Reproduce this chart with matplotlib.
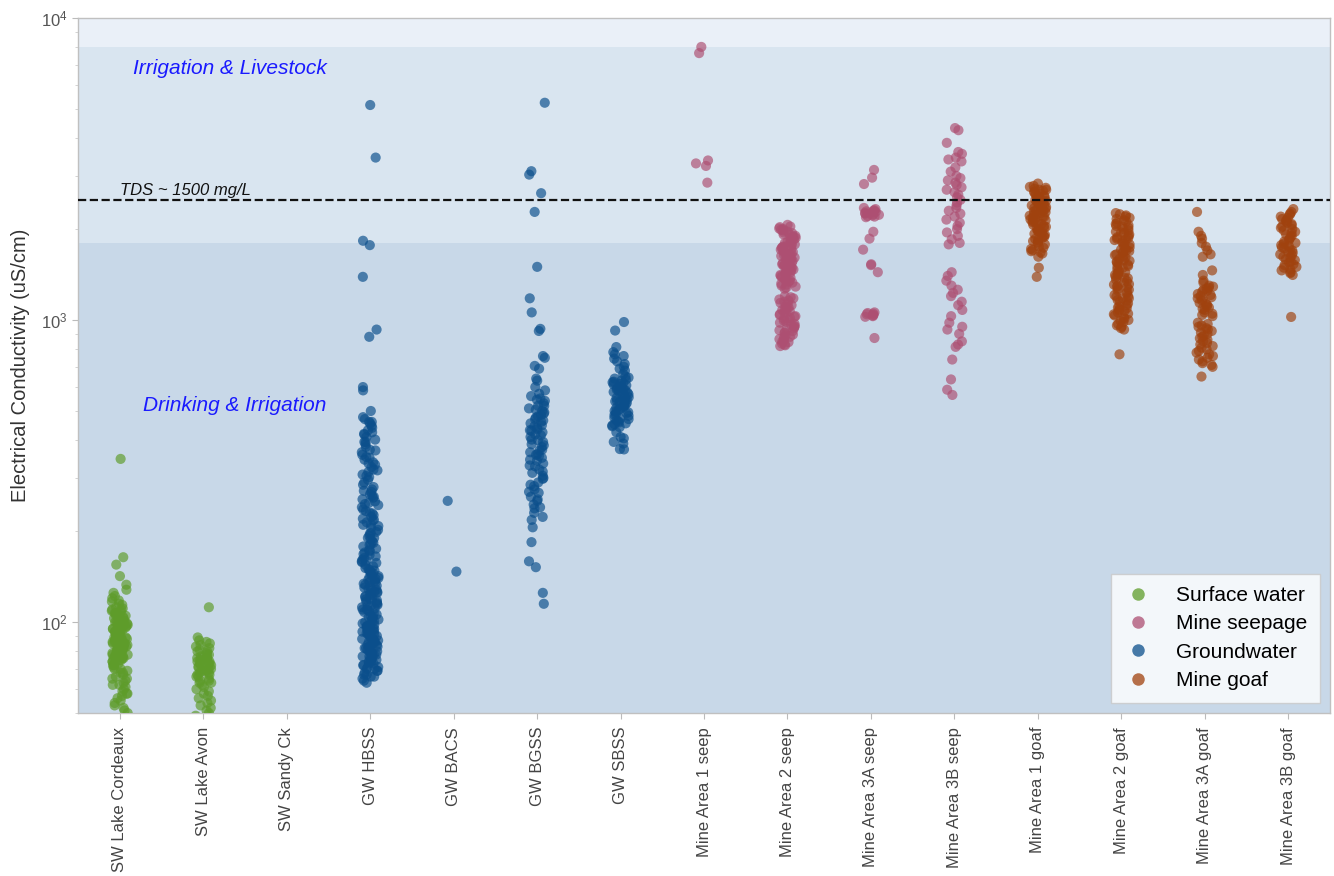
import numpy as np
import pandas as pd
import matplotlib.pyplot as plt
import seaborn as sns
from matplotlib.lines import Line2D

plt.rcParams['font.family'] = ['Liberation Sans', 'DejaVu Sans']
plt.rcParams['mathtext.default'] = 'regular'

# Site categories in plotting order
sites = ['SW Lake Cordeaux', 'SW Lake Avon', 'SW Sandy Ck', 'GW HBSS', 'GW BACS',
         'GW BGSS', 'GW SBSS', 'Mine Area 1 seep', 'Mine Area 2 seep',
         'Mine Area 3A seep', 'Mine Area 3B seep', 'Mine Area 1 goaf',
         'Mine Area 2 goaf', 'Mine Area 3A goaf', 'Mine Area 3B goaf']
site_type = ['Surface water', 'Surface water', 'Surface water', 'Groundwater', 'Groundwater',
             'Groundwater', 'Groundwater', 'Mine seepage', 'Mine seepage',
             'Mine seepage', 'Mine seepage', 'Mine goaf',
             'Mine goaf', 'Mine goaf', 'Mine goaf']
type_order = ['Surface water', 'Mine seepage', 'Groundwater', 'Mine goaf']
type_colors = ['#5e9c2a', '#ad4f72', '#0b4f8c', '#a0420e']

# Electrical conductivity readings (uS/cm)
ec_cordeaux = [347, 164, 155, 142, 133, 128, 125, 122, 120, 118, 117, 115, 114, 112, 111, 110,
               109, 108, 107, 106, 105, 104, 103, 103, 102, 101, 100, 100, 99, 99, 98, 97, 97,
               96, 96, 95, 94, 94, 93, 93, 92, 92, 91, 90, 90, 89, 89, 88, 88, 87, 87, 86, 86,
               85, 85, 84, 84, 83, 83, 82, 82, 81, 81, 80, 80, 79, 79, 78, 78, 77, 77, 76, 76,
               75, 75, 74, 74, 73, 72, 72, 71, 70, 70, 69, 68, 68, 67, 66, 65, 64, 63, 62, 61,
               60, 59, 58, 57, 56, 55, 54, 53, 52, 51, 50, 105, 98, 95, 92, 88, 85, 101, 97, 93,
               89, 86, 83, 80, 76, 73, 110, 107, 103, 99, 96, 91, 87, 84, 81, 78, 65, 62, 58, 48]
ec_avon = [112, 89, 87, 86, 85, 84, 83, 82, 81, 80, 80, 79, 78, 78, 77, 76, 76, 75, 75, 74, 74,
           73, 73, 72, 72, 71, 71, 70, 70, 69, 69, 68, 68, 67, 66, 66, 65, 64, 64, 63, 62, 61,
           60, 59, 58, 57, 56, 55, 54, 53, 52, 51, 50, 49, 48, 76, 73, 70, 67, 63]
ec_sandy = []
ec_hbss = [5150, 3450, 1830, 1770, 1390, 930, 880, 600, 585, 500,
           477, 470, 460, 455, 447, 440, 432, 425, 418, 410, 402, 395, 388, 380, 372, 365, 358,
           350, 345, 338, 332, 326, 320, 314, 308, 302, 296, 460, 420, 395, 370, 352, 335, 318, 305,
           290, 280, 270, 262, 255, 248, 240, 233, 226, 220, 214, 208, 202, 196, 190, 185, 180,
           175, 170, 165, 161, 157, 153, 149, 145, 141, 137, 134, 131, 128, 125, 122, 119, 116,
           113, 110, 107, 104, 101, 98, 96, 94, 92, 90, 88, 86, 84, 82, 80, 78, 76, 74, 72, 70,
           68, 66, 64,
           285, 275, 265, 258, 251, 244, 236, 229, 223, 217, 211, 205, 199, 193, 188, 183, 178,
           173, 168, 163, 159, 155, 151, 147, 143, 139, 136, 132, 129, 126, 123, 120, 117, 114,
           111, 108, 105, 102, 99, 97, 95, 93, 91, 89, 87, 85, 83, 81, 79, 77, 75, 73, 71, 69,
           67, 65,
           272, 246, 218, 197, 181, 167, 158, 150, 142, 135, 127, 121, 115, 109, 103, 100, 97,
           94, 91, 88, 85, 82, 79, 76, 73, 70, 67, 148, 138, 130, 118, 112, 106, 96, 92, 87, 83,
           78, 74, 69,
           260, 230, 210, 190, 172, 160, 146, 133, 124, 113, 104, 98, 93, 86, 80, 75, 71, 66,
           140, 126, 119, 110, 101, 95, 89, 84, 77, 72, 63]
ec_bacs = [252, 147]
ec_bgss = [5240, 3110, 3030, 2630, 2280, 1500, 1180, 1060, 935, 920, 760, 750, 705, 690, 640,
           630, 600, 585, 570, 560, 550, 540, 530, 520, 510, 500, 495, 485, 475, 470, 460, 455,
           448, 440, 432, 425, 418, 410, 402, 395, 388, 380, 372, 365, 358, 350, 342, 335, 328,
           320, 312, 305, 298, 290, 282, 275, 268, 260, 252, 245, 238, 230, 223, 218, 206, 184,
           159, 152, 125, 115, 545, 505, 465, 435, 400, 370, 345, 315, 285, 255, 520, 480, 445,
           415, 385, 355, 330, 300, 270, 240, 490, 430, 360]
ec_sbss = [985, 923, 814, 783, 770, 745, 730, 715, 700, 680, 663, 650, 640, 630, 622, 615, 608,
           600, 595, 588, 580, 575, 568, 560, 555, 548, 540, 535, 528, 520, 515, 508, 500, 495,
           488, 482, 475, 470, 462, 455, 448, 442, 425, 406, 390, 374, 373, 645, 625, 605, 590,
           570, 552, 532, 512, 492, 472, 452, 635, 612, 585, 565, 545, 525, 505, 485, 465, 445,
           618, 578, 538, 498, 458, 760, 690, 410, 395]
ec_seep1 = [8020, 7650, 3375, 3300, 3237, 2850]
ec_seep2 = [2066, 2030, 2000, 1980, 1950, 1920, 1900, 1880, 1850, 1830, 1800, 1780, 1760, 1740,
            1720, 1700, 1680, 1660, 1640, 1620, 1600, 1580, 1560, 1540, 1520, 1500, 1480, 1460,
            1440, 1420, 1400, 1380, 1360, 1340, 1320, 1300, 1280, 2040, 1990, 1940, 1890, 1840,
            1790, 1750, 1710, 1670, 1630, 1590, 1550, 1510, 1470, 1430, 1390, 1350, 1310, 1270,
            1960, 1870, 1770, 1690, 1610, 1530, 1450, 1370, 1290, 2010, 1910, 1820, 1730, 1650,
            1570, 1490, 1410, 1330,
            1200, 1180, 1160, 1140, 1120, 1100, 1085, 1070, 1055, 1040, 1025, 1010, 995, 980,
            965, 950, 935, 920, 905, 890, 875, 860, 845, 830, 820, 1190, 1150, 1110, 1080, 1045,
            1015, 985, 955, 925, 895, 865, 835, 1170, 1130, 1090, 1060, 1030, 1000, 970, 940,
            910, 880, 850, 825]
ec_seep3a = [3140, 2960, 2820, 2350, 2330, 2310, 2300, 2290, 2280, 2270, 2260, 2250, 2240, 2230,
             2220, 2210, 2200, 2190, 1960, 1860, 1710, 1530, 1520, 1440, 1060, 1055, 1050, 1045,
             1040, 1035, 1030, 1025, 872]
ec_seep3b = [4320, 4250, 3860, 3600, 3550, 3450, 3400, 3350, 3200, 3100, 3000, 2950, 2900, 2850,
             2800, 2750, 2700, 2650, 2600, 2550, 2500, 2450, 2400, 2350, 2300, 2250, 2200, 2150,
             2100, 2050, 2000, 1950, 1900, 1850, 1800, 1780, 1440, 1400, 1350, 1300, 1260, 1230,
             1200, 1150, 1120, 1080, 1030, 980, 950, 930, 900, 850, 830, 815, 740, 636, 588, 565]
ec_goaf1 = [2830, 2780, 2740, 2700, 2660, 2620, 2580, 2540, 2500, 2470, 2440, 2410, 2380, 2350,
            2320, 2290, 2260, 2230, 2200, 2170, 2140, 2110, 2080, 2050, 2020, 1990, 1960, 1930,
            1900, 1870, 1840, 1810, 1780, 1750, 1720, 1690, 1660, 1620, 1490, 1390,
            2760, 2680, 2600, 2520, 2455, 2395, 2335, 2275, 2215, 2155, 2095, 2035, 1975, 1915,
            1855, 1795, 1735, 1675, 2720, 2560, 2425, 2305, 2185, 2065, 1945, 1825, 1705, 2640,
            2480, 2365, 2245, 2125, 2005, 1885, 2700, 2550, 2400, 2300, 2200, 2100]
ec_goaf2 = [2260, 2220, 2180, 2140, 2100, 2060, 2020, 1980, 1940, 1900, 1860, 1820, 1780, 1740,
            1700, 1665, 1630, 1595, 1560, 1525, 1490, 1455, 1420, 1390, 1360, 1330, 1300, 1270,
            1240, 1210, 1180, 1150, 1120, 1095, 1070, 1045, 1020, 995, 970, 950, 930, 770,
            2240, 2160, 2080, 2000, 1920, 1840, 1760, 1680, 1610, 1540, 1470, 1405, 1345, 1285,
            1225, 1165, 1110, 1060, 1010, 960,
            2200, 2120, 2040, 1960, 1880, 1800, 1720, 1650, 1580, 1510, 1440, 1375, 1315, 1255,
            1195, 1135, 1085, 1035, 985, 940,
            2050, 1870, 1710, 1570, 1430, 1310, 1200, 1100, 1000, 1950, 1790, 1640, 1500, 1380,
            1260, 1160, 1050, 1850, 1690, 1550, 1410, 1290, 1180, 1075]
ec_goaf3a = [2280, 1960, 1900, 1860, 1800, 1750, 1700, 1650, 1620, 1460, 1410, 1350,
             1330, 1300, 1280, 1260, 1240, 1220, 1200, 1180, 1160, 1140, 1120, 1100, 1080, 1060,
             1040, 1030, 1290, 1250, 1210, 1170, 1130, 1090, 1050, 1270, 1190, 1110,
             980, 960, 940, 920, 900, 880, 860, 840, 820, 800, 780, 760, 740, 720, 700, 970, 930,
             890, 850, 810, 770, 730, 950, 870, 790, 710, 910, 830, 750, 650]
ec_goaf3b = [2330, 2280, 2230, 2180, 2140, 2100, 2060, 2020, 1980, 1940, 1900, 1860, 1820, 1790,
             1760, 1730, 1700, 1670, 1640, 1610, 1580, 1550, 1520, 1490, 1460, 1430, 1410, 2250,
             2160, 2080, 2000, 1920, 1840, 1770, 1710, 1650, 1590, 1530, 1470, 2120, 1960, 1880,
             1800, 1680, 1560, 1440, 2200, 2040, 1740, 1620, 1500, 1024]

site_values = [ec_cordeaux, ec_avon, ec_sandy, ec_hbss, ec_bacs, ec_bgss, ec_sbss, ec_seep1,
               ec_seep2, ec_seep3a, ec_seep3b, ec_goaf1, ec_goaf2, ec_goaf3a, ec_goaf3b]

# Guideline thresholds (uS/cm)
drinking_limit = 1800
irrigation_limit = 8000
tds_line = 2500

rows = []
for site, kind, vals in zip(sites, site_type, site_values):
    for v in vals:
        rows.append((site, kind, v))
df = pd.DataFrame(rows, columns=['site', 'type', 'ec'])

fig = plt.figure(figsize=(13.34, 8.76), dpi=100)
ax = fig.add_axes([0.0585, 0.186, 0.9385, 0.7935])
ax.set_facecolor('#eaf0f8')

ax.axhspan(50, drinking_limit, color='#c8d8e8', zorder=0, lw=0)
ax.axhspan(drinking_limit, irrigation_limit, color='#d9e5f0', zorder=0, lw=0)

np.random.seed(3)
palette = dict(zip(type_order, type_colors))
sns.stripplot(data=df, x='site', y='ec', hue='type', order=sites, hue_order=type_order,
              palette=palette, size=7.3, alpha=0.68, linewidth=0, ax=ax, legend=False,
              zorder=3)

ax.set_yscale('log')
ax.set_ylim(50, 10000)
ax.set_xlim(-0.5, len(sites) - 0.5)

ax.axhline(tds_line, color='#111111', ls='--', lw=1.6, zorder=4)
ax.text(0.0, 2540, 'TDS ~ 1500 mg/L', fontsize=12, style='italic', color='#111111',
        ha='left', va='bottom', zorder=5)
ax.text(0.16, 6800, 'Irrigation & Livestock', fontsize=15, style='italic', color='#1a1aff',
        ha='left', va='center', zorder=5)
ax.text(0.28, 520, 'Drinking & Irrigation', fontsize=15, style='italic', color='#1a1aff',
        ha='left', va='center', zorder=5)

ax.set_xlabel('')
ax.set_ylabel('Electrical Conductivity (uS/cm)', fontsize=14.5, color='#333333', labelpad=8)
ax.set_xticks(range(len(sites)))
ax.set_xticklabels(sites, rotation=90, fontsize=12, color='#444444')
ax.tick_params(axis='x', length=4, width=0.8, color='#bbbbbb', pad=6)
ax.tick_params(axis='y', which='major', labelsize=12, labelcolor='#555555', length=4,
               width=0.8, color='#bbbbbb')
ax.tick_params(axis='y', which='minor', length=2.5, width=0.6, color='#cccccc')
for sp in ax.spines.values():
    sp.set_color('#c0c0c0')
    sp.set_linewidth(1.0)

handles = [Line2D([], [], marker='o', ls='', color=c, alpha=0.75, markersize=9,
                  markeredgewidth=0) for c in type_colors]
leg = ax.legend(handles, type_order, loc='lower right', fontsize=15, frameon=True,
                framealpha=0.8, edgecolor='#c8c8c8', fancybox=False, borderpad=0.6,
                labelspacing=0.45, handlelength=1.4, handletextpad=1.1,
                borderaxespad=0.5)
leg.get_frame().set_linewidth(1.0)

fig.savefig('out.png', dpi=100)
